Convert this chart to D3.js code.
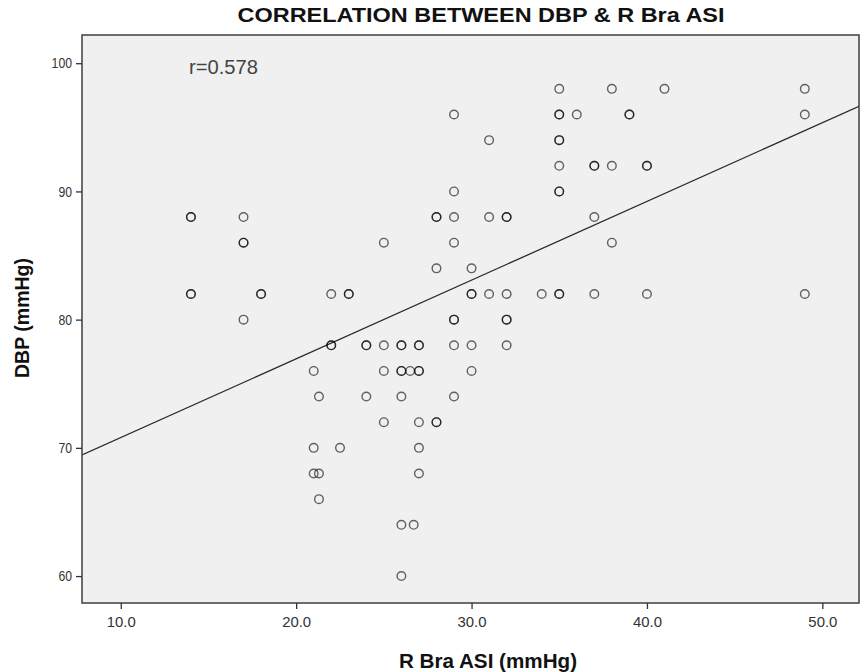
<!DOCTYPE html>
<html><head><meta charset="utf-8">
<script src="https://cdn.jsdelivr.net/npm/d3@7"></script>
<style>
body{margin:0;background:#fff}
svg{display:block}
text{font-family:"Liberation Sans",Arial,Helvetica,sans-serif}
</style>
</head><body>
<svg id="chart" width="865" height="672"></svg>
<script>
// ---- data ----
const rBraASI = [
  14,14,14,14,
  17,17,17,17,
  18,18,
  21,21,21,
  21.3,21.3,21.3,
  22,22,22,
  22.5,
  23,23,
  24,24,24,
  25,25,25,25,
  26,26,26,26,26,26,26,
  26.5,
  26.7,
  27,27,27,27,27,27,27,
  28,28,28,28,28,
  29,29,29,29,29,29,29,29,
  30,30,30,30,30,
  31,31,31,
  32,32,32,32,32,32,
  34,
  35,35,35,35,35,35,35,35,35,35,
  36,
  37,37,37,37,
  38,38,38,
  39,39,
  40,40,40,
  41,
  49,49,49
];
const dbp = [
  88,88,82,82,
  88,86,86,80,
  82,82,
  76,70,68,
  74,68,66,
  82,78,78,
  70,
  82,82,
  78,78,74,
  86,78,76,72,
  78,78,76,76,74,64,60,
  76,
  64,
  78,78,76,76,72,70,68,
  88,88,84,72,72,
  96,90,88,86,80,80,78,74,
  84,82,82,78,76,
  94,88,82,
  88,88,82,80,80,78,
  82,
  98,96,96,94,94,92,90,90,82,82,
  96,
  92,92,88,82,
  98,92,86,
  96,96,
  92,92,82,
  98,
  98,96,82
];
const xTicks = [10, 20, 30, 40, 50];
const yTicks = [60, 70, 80, 90, 100];
const fitIntercept = 64.66;   // fitted line
const fitSlope = 0.614;
const rLabel = "r=0.578";
const chartTitle = "CORRELATION BETWEEN DBP &  R Bra ASI";
const xTitle = "R Bra ASI (mmHg)";
const yTitle = "DBP (mmHg)";

// ---- layout ----
const L = 82, R = 859, T = 35, B = 603;
const svg = d3.select("#chart");
const x = d3.scaleLinear().domain([7.79, 52.09]).range([L, R]);
const y = d3.scaleLinear().domain([57.9, 102.2]).range([B, T]);

svg.append("rect").attr("x", L).attr("y", T).attr("width", R - L).attr("height", B - T)
  .attr("fill", "#f0f0f0");

svg.append("defs").append("clipPath").attr("id", "clip")
  .append("rect").attr("x", L).attr("y", T).attr("width", R - L).attr("height", B - T);

// fit line
const xd = x.domain();
svg.append("line")
  .attr("clip-path", "url(#clip)")
  .attr("x1", x(xd[0])).attr("y1", y(fitIntercept + fitSlope * xd[0]))
  .attr("x2", x(xd[1])).attr("y2", y(fitIntercept + fitSlope * xd[1]))
  .attr("stroke", "#2a2a2a").attr("stroke-width", 1.3);

// points
const pts = rBraASI.map((v, i) => ({x: v, y: dbp[i]}));
svg.append("g").selectAll("circle").data(pts).join("circle")
  .attr("cx", d => x(d.x)).attr("cy", d => y(d.y)).attr("r", 4.3)
  .attr("fill", "none").attr("stroke", "#000").attr("stroke-opacity", 0.6)
  .attr("stroke-width", 1.4);

// frame
svg.append("rect").attr("x", L).attr("y", T).attr("width", R - L).attr("height", B - T)
  .attr("fill", "none").attr("stroke", "#4a4a4a").attr("stroke-width", 1.6);

// axes
const xAxis = d3.axisBottom(x).tickValues(xTicks).tickFormat(d3.format(".1f"))
  .tickSize(6).tickPadding(8);
const gx = svg.append("g").attr("transform", `translate(0,${B})`).call(xAxis);
gx.select(".domain").remove();
gx.selectAll("line").attr("stroke", "#333").attr("stroke-width", 1.3);
gx.selectAll("text").attr("font-size", 14.5).attr("fill", "#333")
  .attr("font-family", "'Liberation Sans',Arial,sans-serif")
  .attr("textLength", 29).attr("lengthAdjust", "spacingAndGlyphs");

const yAxis = d3.axisLeft(y).tickValues(yTicks).tickFormat(d3.format("d"))
  .tickSize(6).tickPadding(4);
const gy = svg.append("g").attr("transform", `translate(${L},0)`).call(yAxis);
gy.select(".domain").remove();
gy.selectAll("line").attr("stroke", "#333").attr("stroke-width", 1.3);
gy.selectAll("text").attr("font-size", 14.5).attr("fill", "#333")
  .attr("font-family", "'Liberation Sans',Arial,sans-serif")
  .attr("textLength", d => String(d).length * 6.8).attr("lengthAdjust", "spacingAndGlyphs");

// texts
svg.append("text").attr("x", 481).attr("y", 22).attr("text-anchor", "middle")
  .attr("font-size", 20).attr("font-weight", "bold").attr("fill", "#111")
  .attr("textLength", 487).attr("lengthAdjust", "spacingAndGlyphs")
  .text(chartTitle);

svg.append("text").attr("x", 488).attr("y", 668).attr("text-anchor", "middle")
  .attr("font-size", 20).attr("font-weight", "bold").attr("fill", "#111")
  .attr("textLength", 178).attr("lengthAdjust", "spacingAndGlyphs")
  .text(xTitle);

svg.append("text").attr("transform", "translate(29,318) rotate(-90)")
  .attr("text-anchor", "middle")
  .attr("font-size", 20).attr("font-weight", "bold").attr("fill", "#111")
  .attr("textLength", 120).attr("lengthAdjust", "spacingAndGlyphs")
  .text(yTitle);

svg.append("text").attr("x", 189).attr("y", 74)
  .attr("font-size", 20).attr("fill", "#444")
  .attr("textLength", 69).attr("lengthAdjust", "spacingAndGlyphs")
  .text(rLabel);
</script>
</body></html>
